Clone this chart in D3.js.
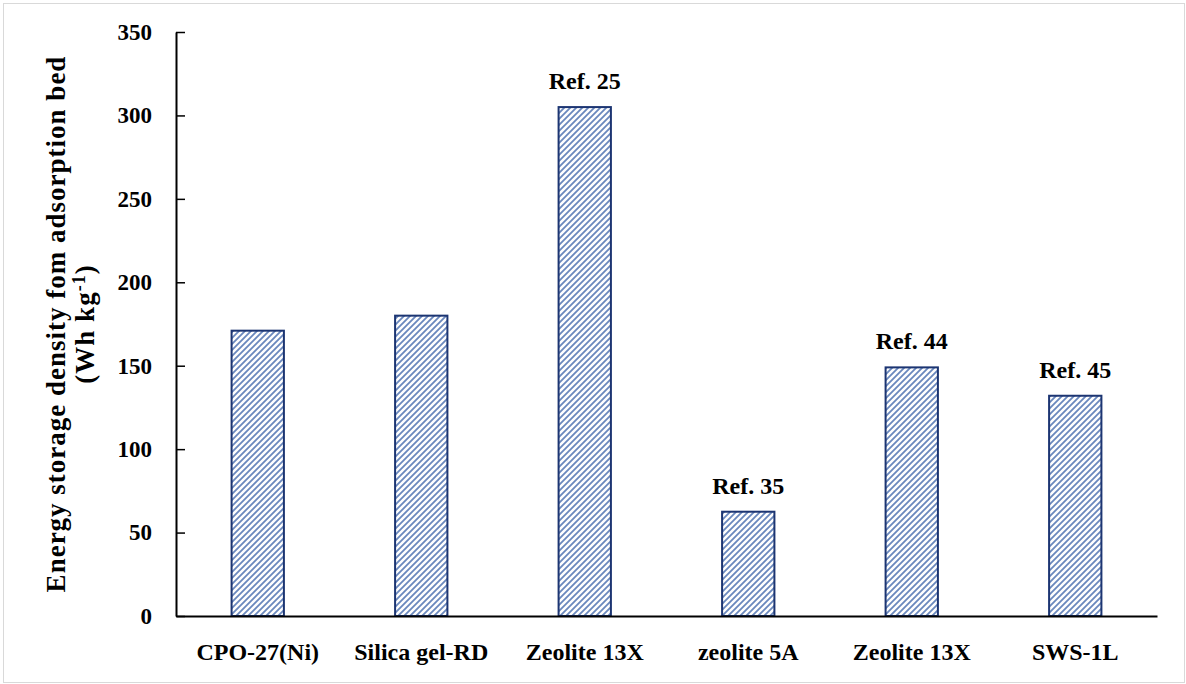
<!DOCTYPE html>
<html>
<head>
<meta charset="utf-8">
<script src="https://cdn.jsdelivr.net/npm/d3@7"></script>
<style>
  html, body { margin: 0; padding: 0; background: #fff; }
  svg { display: block; }
  text { font-family: "Liberation Serif", "Times New Roman", serif; font-weight: bold; fill: #000; }
</style>
</head>
<body>
<svg id="chart" width="1186" height="684"></svg>
<script>
const categories = ["CPO-27(Ni)", "Silica gel-RD", "Zeolite 13X", "zeolite 5A", "Zeolite 13X", "SWS-1L"];
const values = [171, 180, 305, 62.5, 149, 132];
const refLabels = ["", "", "Ref. 25", "Ref. 35", "Ref. 44", "Ref. 45"];
const yTicks = [0, 50, 100, 150, 200, 250, 300, 350];

const W = 1186, H = 684;
const margin = { top: 32, right: 29, bottom: 68, left: 176 };
const svg = d3.select("#chart");

// outer border
svg.append("rect")
  .attr("x", 3.5).attr("y", 3.5)
  .attr("width", W - 5).attr("height", H - 5)
  .attr("fill", "none").attr("stroke", "#d9d9d9").attr("stroke-width", 1);

// pattern
const defs = svg.append("defs");
const pat = defs.append("pattern")
  .attr("id", "hatch").attr("patternUnits", "userSpaceOnUse")
  .attr("width", 6).attr("height", 6);
pat.append("rect").attr("width", 6).attr("height", 6).attr("fill", "#fff");
pat.append("path")
  .attr("d", "M0,6 L6,0 M-1,1 L1,-1 M5,7 L7,5")
  .attr("stroke", "#6a88bd").attr("stroke-width", 1.8);

const idx = categories.map((d, i) => i);
const x = d3.scaleBand().domain(idx)
  .range([margin.left, W - margin.right])
  .paddingInner(0.68).paddingOuter(0.34);
const y = d3.scaleLinear().domain([0, 350]).range([H - margin.bottom, margin.top]);

// bars
svg.append("g").selectAll("rect").data(values).join("rect")
  .attr("x", (d, i) => x(i))
  .attr("y", d => y(d))
  .attr("width", x.bandwidth())
  .attr("height", d => y(0) - y(d))
  .attr("fill", "url(#hatch)")
  .attr("stroke", "#1c3572").attr("stroke-width", 2);

// ref labels
svg.append("g").selectAll("text").data(values).join("text")
  .attr("x", (d, i) => x(i) + x.bandwidth() / 2)
  .attr("y", d => y(d) - 18)
  .attr("text-anchor", "middle")
  .style("font-size", "24px")
  .text((d, i) => refLabels[i]);

// y axis
const yAxis = d3.axisLeft(y).tickValues(yTicks).tickSizeInner(-9).tickSizeOuter(0).tickPadding(24);
const gy = svg.append("g").attr("transform", `translate(${margin.left},0)`).call(yAxis);
gy.select(".domain").attr("stroke", "#000").attr("stroke-width", 2);
gy.selectAll(".tick line").attr("stroke", "#000").attr("stroke-width", 1.5);
gy.selectAll(".tick text").style("font-size", "23px").style("font-family", "Liberation Serif").style("font-weight", "bold");

// x axis
const xAxis = d3.axisBottom(x).tickSize(0).tickPadding(27).tickFormat(i => categories[i]);
const gx = svg.append("g").attr("transform", `translate(0,${y(0)})`).call(xAxis);
gx.select(".domain").attr("stroke", "#000").attr("stroke-width", 2);
gx.selectAll(".tick text").style("font-size", "24px").style("font-family", "Liberation Serif").style("font-weight", "bold");

// y title
const cy = (margin.top + y(0)) / 2;
const title = svg.append("text")
  .attr("transform", `translate(65,${cy}) rotate(-90)`)
  .attr("text-anchor", "middle")
  .style("font-size", "27px").style("letter-spacing", "1px");
title.append("tspan").attr("x", 0).attr("y", 0).text("Energy storage density fom adsorption bed");
const l2 = svg.append("text")
  .attr("transform", `translate(94,${cy}) rotate(-90)`)
  .attr("text-anchor", "middle")
  .style("font-size", "27px").style("letter-spacing", "1px");
l2.append("tspan").text("(Wh kg");
l2.append("tspan").attr("dy", -9).style("font-size", "18px").text("-1");
l2.append("tspan").attr("dy", 9).text(")");
</script>
</body>
</html>
